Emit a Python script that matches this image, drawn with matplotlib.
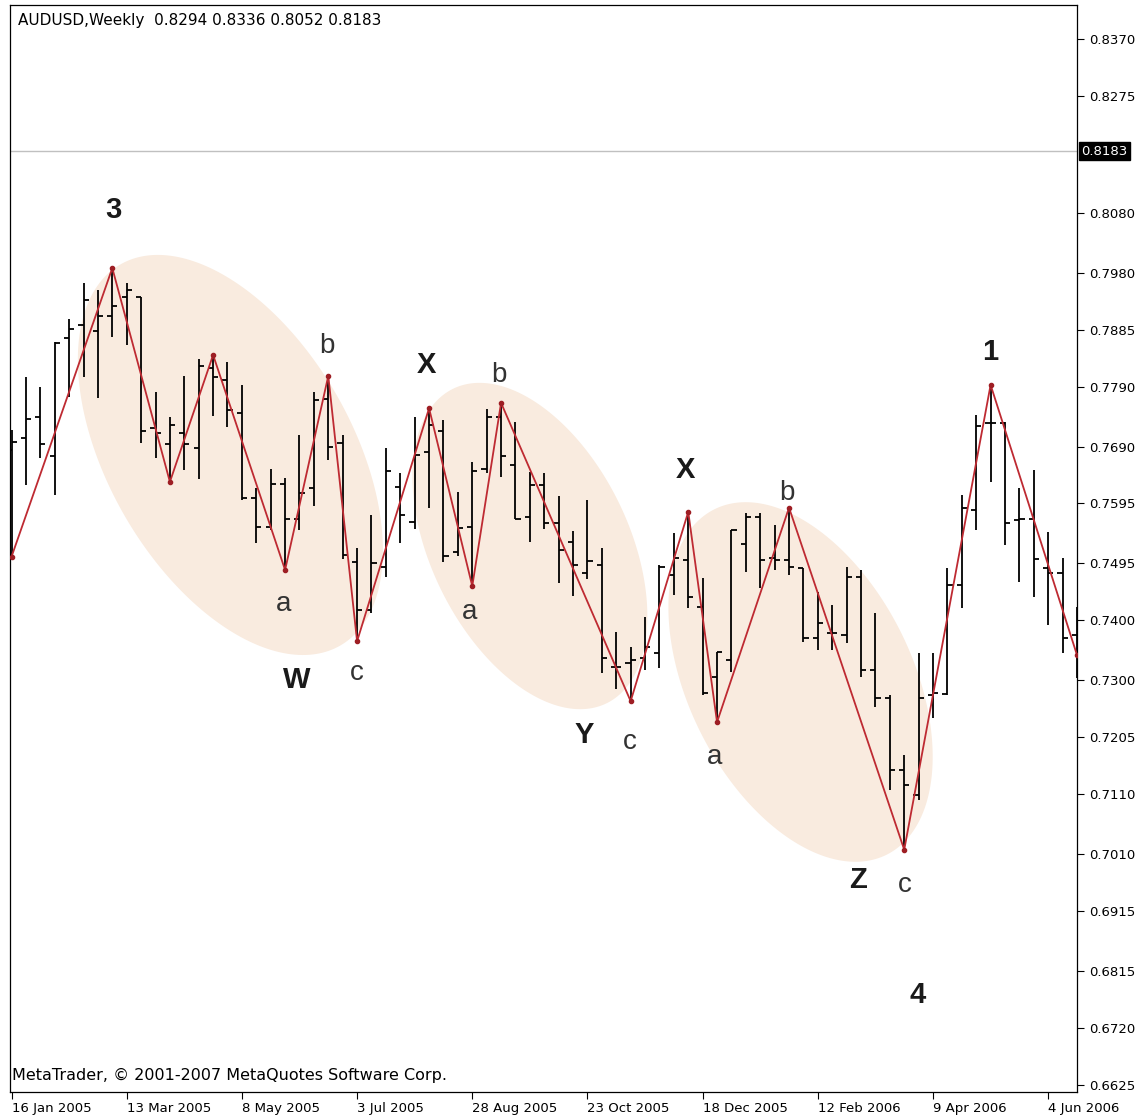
import numpy as np
import matplotlib.pyplot as plt
from matplotlib.transforms import blended_transform_factory

# AUDUSD weekly bars, index 0 = week of 16 Jan 2005
opens = [0.7684, 0.7704, 0.7739, 0.7674, 0.7871, 0.7893, 0.7883, 0.7908, 0.7940, 0.7940,
         0.7721, 0.7694, 0.7713, 0.7688, 0.7821, 0.7801, 0.7746, 0.7604, 0.7556, 0.7628,
         0.7569, 0.7621, 0.7770, 0.7696, 0.7497, 0.7417, 0.7489, 0.7623, 0.7564, 0.7681,
         0.7716, 0.7514, 0.7556, 0.7653, 0.7739, 0.7659, 0.7572, 0.7626, 0.7562, 0.7531,
         0.7479, 0.7492, 0.7322, 0.7329, 0.7337, 0.7345, 0.7476, 0.7501, 0.7422, 0.7305,
         0.7334, 0.7527, 0.7572, 0.7504, 0.7501, 0.7487, 0.7370, 0.7379, 0.7375, 0.7472,
         0.7317, 0.7270, 0.7150, 0.7108, 0.7275, 0.7277, 0.7459, 0.7584, 0.7729, 0.7729,
         0.7567, 0.7569, 0.7487, 0.7479, 0.7375]
highs = [0.7718, 0.7806, 0.7789, 0.7865, 0.7903, 0.7963, 0.7952, 0.7988, 0.7963, 0.7940,
         0.7781, 0.7739, 0.7808, 0.7836, 0.7843, 0.7831, 0.7793, 0.7621, 0.7653, 0.7638,
         0.7709, 0.7781, 0.7808, 0.7709, 0.7521, 0.7576, 0.7688, 0.7646, 0.7739, 0.7754,
         0.7734, 0.7614, 0.7664, 0.7753, 0.7763, 0.7731, 0.7648, 0.7646, 0.7608, 0.7549,
         0.7601, 0.7521, 0.7380, 0.7355, 0.7406, 0.7492, 0.7546, 0.7581, 0.7471, 0.7347,
         0.7551, 0.7579, 0.7579, 0.7559, 0.7588, 0.7487, 0.7447, 0.7426, 0.7489, 0.7484,
         0.7412, 0.7275, 0.7175, 0.7345, 0.7345, 0.7487, 0.7609, 0.7743, 0.7793, 0.7731,
         0.7621, 0.7651, 0.7547, 0.7504, 0.7422]
lows = [0.7506, 0.7626, 0.7671, 0.7609, 0.7773, 0.7806, 0.7771, 0.7873, 0.7860, 0.7696,
        0.7671, 0.7631, 0.7651, 0.7636, 0.7741, 0.7723, 0.7601, 0.7529, 0.7551, 0.7484,
        0.7551, 0.7591, 0.7668, 0.7502, 0.7365, 0.7412, 0.7472, 0.7529, 0.7552, 0.7588,
        0.7497, 0.7507, 0.7457, 0.7646, 0.7639, 0.7569, 0.7531, 0.7552, 0.7462, 0.7441,
        0.7469, 0.7312, 0.7285, 0.7265, 0.7317, 0.7320, 0.7442, 0.7421, 0.7275, 0.7230,
        0.7314, 0.7481, 0.7454, 0.7484, 0.7476, 0.7364, 0.7350, 0.7350, 0.7362, 0.7305,
        0.7255, 0.7117, 0.7017, 0.7100, 0.7237, 0.7275, 0.7421, 0.7551, 0.7631, 0.7526,
        0.7464, 0.7439, 0.7392, 0.7345, 0.7304]
closes = [0.7698, 0.7736, 0.7694, 0.7863, 0.7886, 0.7935, 0.7908, 0.7925, 0.7952, 0.7716,
          0.7713, 0.7726, 0.7694, 0.7825, 0.7806, 0.7751, 0.7604, 0.7556, 0.7628, 0.7569,
          0.7613, 0.7768, 0.7689, 0.7509, 0.7417, 0.7496, 0.7649, 0.7576, 0.7676, 0.7726,
          0.7507, 0.7554, 0.7649, 0.7739, 0.7674, 0.7569, 0.7626, 0.7562, 0.7517, 0.7492,
          0.7499, 0.7337, 0.7322, 0.7334, 0.7355, 0.7489, 0.7504, 0.7439, 0.7279, 0.7347,
          0.7551, 0.7572, 0.7501, 0.7501, 0.7489, 0.7370, 0.7396, 0.7379, 0.7472, 0.7317,
          0.7270, 0.7150, 0.7125, 0.7270, 0.7279, 0.7459, 0.7588, 0.7724, 0.7729, 0.7562,
          0.7569, 0.7502, 0.7479, 0.7370, 0.7350]

# zigzag turning points (bar index, price)
zz_idx = [0, 7, 11, 14, 19, 22, 24, 29, 32, 34, 43, 47, 49, 54, 62, 68, 74]
zz_price = [0.7506, 0.7988, 0.7631, 0.7843, 0.7484, 0.7808, 0.7365, 0.7754, 0.7457,
            0.7763, 0.7265, 0.7581, 0.7230, 0.7588, 0.7017, 0.7793, 0.7342]

date_labels = ['16 Jan 2005', '13 Mar 2005', '8 May 2005', '3 Jul 2005', '28 Aug 2005',
               '23 Oct 2005', '18 Dec 2005', '12 Feb 2006', '9 Apr 2006', '4 Jun 2006']
price_labels = ['0.8370', '0.8275', '0.8080', '0.7980', '0.7885', '0.7790', '0.7690',
                '0.7595', '0.7495', '0.7400', '0.7300', '0.7205', '0.7110', '0.7010',
                '0.6915', '0.6815', '0.6720', '0.6625']
last_price = 0.8183

# wave labels: text, bar index, price
wave_major = [('3', 7.05, 0.8085), ('W', 19.8, 0.7300), ('X', 28.85, 0.7826),
              ('Y', 39.8, 0.7209), ('X', 46.8, 0.7651), ('Z', 58.8, 0.6966),
              ('1', 67.95, 0.7848), ('4', 62.9, 0.6774)]
wave_minor = [('b', 21.9, 0.7858), ('a', 18.9, 0.7427), ('c', 24.0, 0.7312),
              ('b', 33.85, 0.7810), ('a', 31.8, 0.7414), ('c', 42.95, 0.7197),
              ('a', 48.8, 0.7172), ('b', 53.85, 0.7613), ('c', 62.05, 0.6958)]

W, H = 1146, 1118
fig = plt.figure(figsize=(W / 100, H / 100), dpi=100)
ax = fig.add_axes([9.5 / W, 1 - 1092 / H, (1077 - 9.5) / W, (1092 - 5) / H])
ax.set_xlim(-0.14, 74.0)
ax.set_ylim(0.66125, 0.84272)

# shaded ellipses (sizes in pixels, converted to data units)
def blob(cx, cy, a_px, b_px, ang):
    t = np.linspace(0, 2 * np.pi, 240)
    ex, ey = a_px * np.cos(t), b_px * np.sin(t)
    r = np.deg2rad(ang)
    dx = ex * np.cos(r) - ey * np.sin(r)
    dy = ex * np.sin(r) + ey * np.cos(r)
    x0, x1 = ax.get_xlim()
    y0, y1 = ax.get_ylim()
    sx = (x1 - x0) / ax.bbox.width
    sy = (y1 - y0) / ax.bbox.height
    return cx + dx * sx, cy + dy * sy

for cx, cy, a, b, ang in [(15.2, 0.7676, 220, 122, -60.0),
                          (36.0, 0.7524, 175, 99, -64.0),
                          (54.8, 0.7297, 193, 112, -63.5)]:
    xs, ys = blob(cx, cy, a, b, ang)
    ax.fill(xs, ys, color='#F9EBDF', lw=0, zorder=1)

# current price line
ax.axhline(last_price, color='#C0C0C0', lw=1, zorder=1)

# OHLC bars
idx = np.arange(len(highs))
ax.vlines(idx, lows, highs, color='black', lw=1.3, zorder=3)
ax.hlines(opens, idx - 0.36, idx, color='black', lw=1.3, zorder=3)
ax.hlines(closes, idx, idx + 0.36, color='black', lw=1.3, zorder=3)

# zigzag
ax.plot(zz_idx, zz_price, color='#BE2A32', lw=1.3, zorder=4,
        marker='o', ms=3, mfc='#9E1E24', mec='#9E1E24')

for txt, x, y in wave_major:
    ax.text(x, y, txt, fontsize=21, fontweight='bold', family='Liberation Sans',
            color='#1a1a1a', ha='center', va='center', zorder=5)
for txt, x, y in wave_minor:
    ax.text(x, y, txt, fontsize=20, family='Liberation Sans',
            color='#333333', ha='center', va='center', zorder=5)

# axes styling
for s in ax.spines.values():
    s.set_linewidth(0.9)
    s.set_color('black')

ax.set_xticks(np.arange(0, 73, 8))
ax.set_xticklabels(date_labels)
for lbl in ax.get_xticklabels():
    lbl.set_horizontalalignment('left')
ax.tick_params(axis='x', direction='out', length=5, width=0.8, pad=2, labelsize=9.5)

ax.yaxis.tick_right()
ax.set_yticks([float(v) for v in price_labels])
ax.set_yticklabels(price_labels)
ax.tick_params(axis='y', direction='out', length=5, width=0.8, pad=4, labelsize=9.5)

tr = blended_transform_factory(ax.transAxes, ax.transData)
ax.text(1.004, last_price, '0.8183', transform=tr, color='white', fontsize=9.5,
        ha='left', va='center',
        bbox=dict(boxstyle='square,pad=0.2', fc='black', ec='black'))

fig.text(18 / W, 1 - 21 / H, 'AUDUSD,Weekly  0.8294 0.8336 0.8052 0.8183',
         fontsize=11, va='center', ha='left')
fig.text(12 / W, 1 - 1075 / H, 'MetaTrader, \u00a9 2001-2007 MetaQuotes Software Corp.',
         fontsize=11.5, va='center', ha='left')

fig.savefig('out.png', dpi=100, facecolor='white')
